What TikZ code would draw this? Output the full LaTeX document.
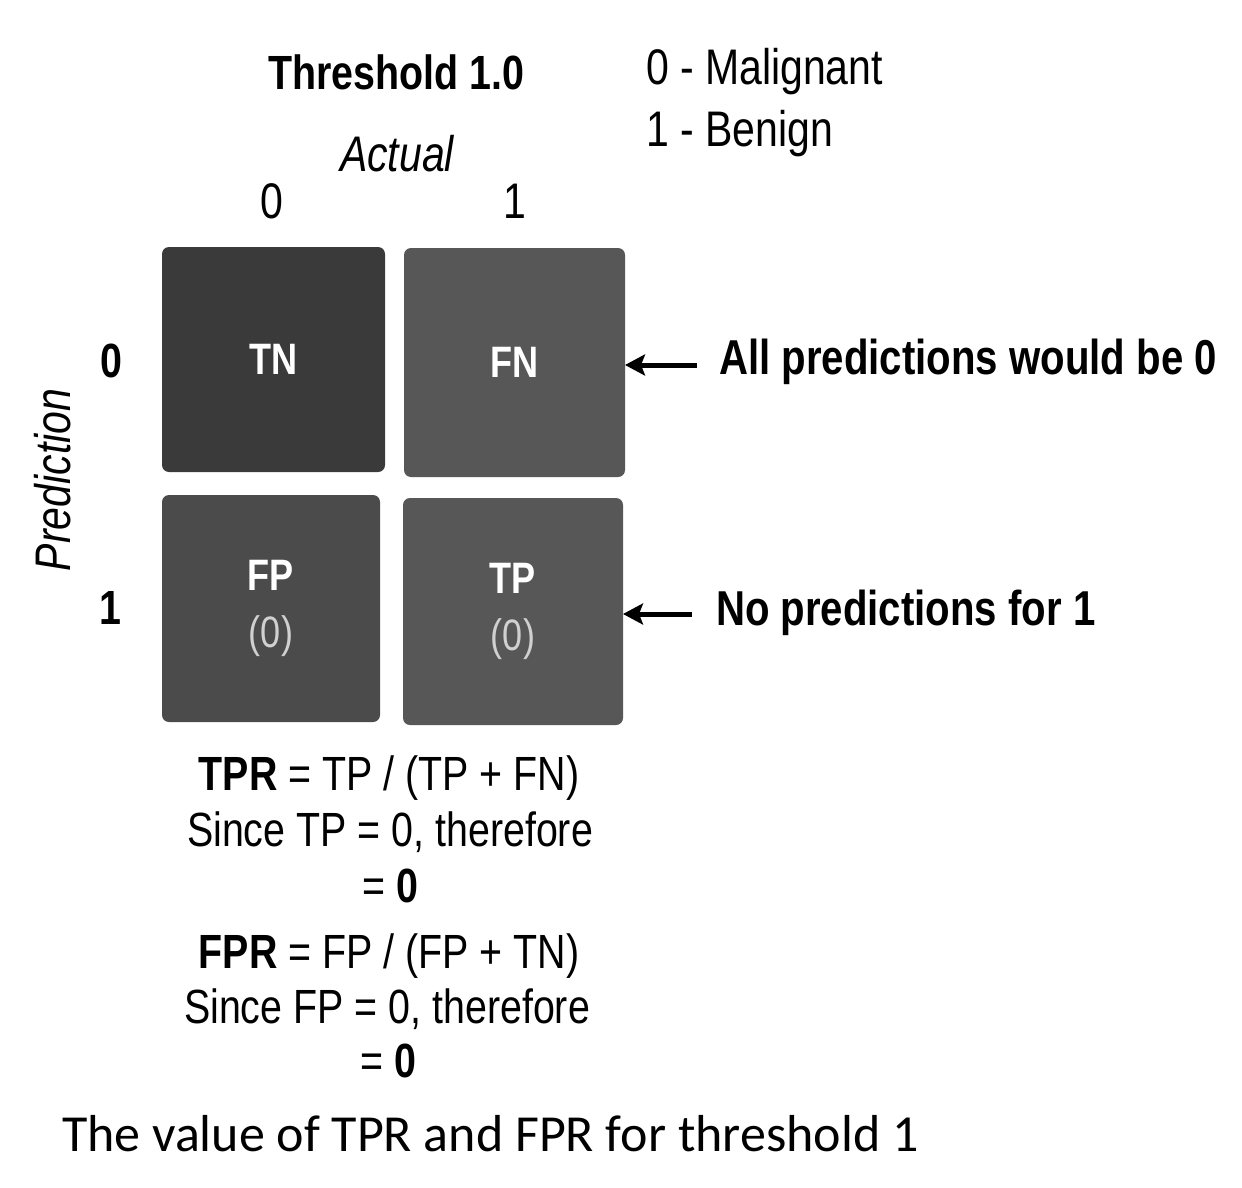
\documentclass[tikz,border=0pt]{standalone}
\usepackage{fontspec}
\usetikzlibrary{arrows.meta}
\newfontfamily\nar[FakeStretch=0.82]{Liberation Sans}
\newfontfamily\capf{Carlito}
\definecolor{cellA}{HTML}{3A3A3A}
\definecolor{cellB}{HTML}{575757}
\definecolor{cellC}{HTML}{4B4B4B}
\definecolor{zerog}{HTML}{D0D0D0}
\begin{document}
\begin{tikzpicture}[x=1pt,y=-1pt,
  every node/.style={inner sep=0pt,outer sep=0pt},
  cell/.style={rounded corners=7pt,align=center,text=white,font=\nar\bfseries\fontsize{44}{57}\selectfont},
  lbl/.style={font=\nar\fontsize{50}{56}\selectfont},
  ilbl/.style={font=\nar\itshape\fontsize{50}{56}\selectfont},
  blbl/.style={font=\nar\bfseries\fontsize{48}{54}\selectfont},
  note/.style={font=\nar\bfseries\fontsize{49}{54}\selectfont,anchor=west},
  formula/.style={font=\nar\fontsize{48}{54}\selectfont},
  arrowline/.style={line width=5pt,arrows={-Stealth[length=20pt,width=21pt,inset=4pt]}}]
\useasboundingbox (0,0) rectangle (1242,1188);
\fill[white] (0,0) rectangle (1242,1188);
% header
\node[blbl] (thr) at (396,72) {Threshold 1.0};
\node[lbl,anchor=west] (mal) at (646,72) {0 - Malignant};
\node[lbl,anchor=west] (ben) at (646,134) {1 - Benign};
\node[ilbl] (act) at (397,154) {Actual};
\node[lbl] (a0) at (272,201) {0};
\node[lbl] (a1) at (515,201) {1};
% row labels
\node[blbl] (p0) at (111,361) {0};
\node[blbl] (p1) at (110,608) {1};
\node[ilbl,rotate=90] (pred) at (53,480) {Prediction};
% cells
\node[cell,fill=cellA,minimum width=223pt,minimum height=225pt] (TN) at (273.5,359.5) {TN};
\node[cell,fill=cellB,minimum width=221pt,minimum height=229pt] (FN) at (514.5,362.5) {FN};
\node[cell,fill=cellC,minimum width=218pt,minimum height=227pt] (FP) at (271,608.5) {FP\\\textcolor{zerog}{\mdseries(0)}};
\node[cell,fill=cellB,minimum width=220pt,minimum height=227pt] (TP) at (513,611.5) {TP\\\textcolor{zerog}{\mdseries(0)}};
% notes
\node[note] (n1) at (719,362) {All predictions would be 0};
\node[note] (n2) at (716,613) {No predictions for 1};
\coordinate (e1) at (697,365);
\coordinate (e2) at (692,614);
\draw[arrowline] (e1) -- (FN.east |- e1);
\draw[arrowline] (e2) -- (TP.east |- e2);
% formulas
\node[formula] (f1) at (389,778) {\textbf{TPR} = TP / (TP + FN)};
\node[formula] (f2) at (390,832) {Since TP = 0, therefore};
\node[formula] (f3) at (390,886) {= \textbf{0}};
\node[formula] (f4) at (389,956) {\textbf{FPR} = FP / (FP + TN)};
\node[formula] (f5) at (387,1009) {Since FP = 0, therefore};
\node[formula] (f6) at (388,1061) {= \textbf{0}};
% caption
\node[font=\capf\fontsize{52}{60}\selectfont,anchor=west] (cap) at (62,1134) {The value of TPR and FPR for threshold 1};
\end{tikzpicture}
\end{document}
